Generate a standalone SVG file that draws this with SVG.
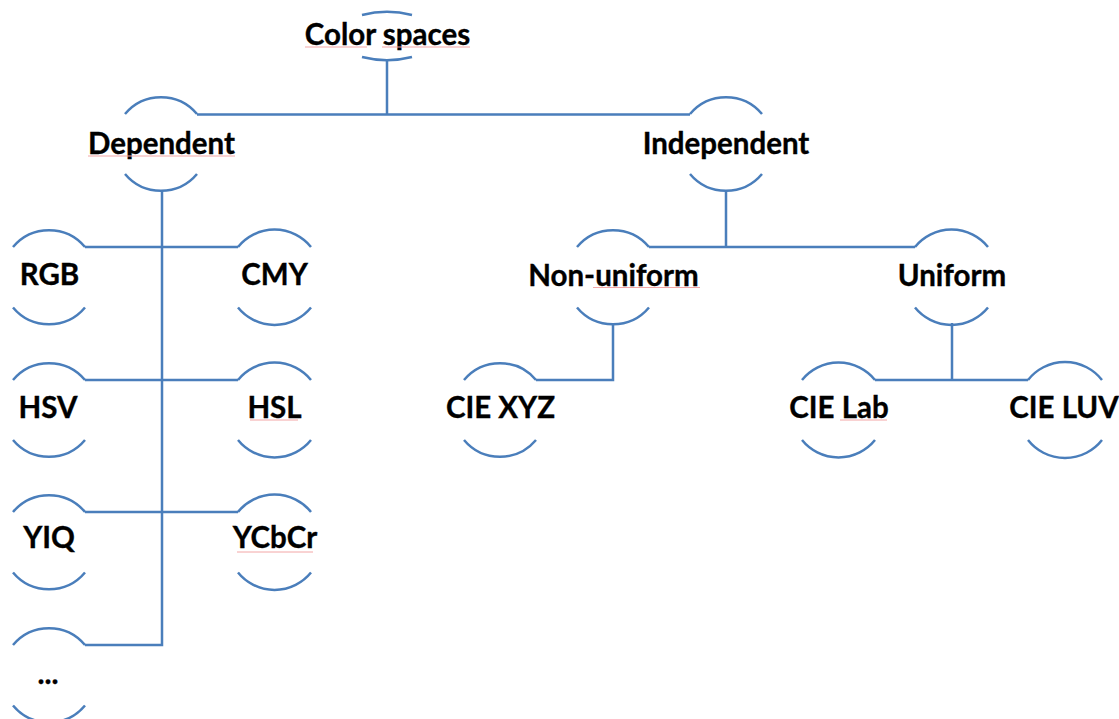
<svg xmlns="http://www.w3.org/2000/svg" width="1119" height="719" viewBox="0 0 1119 719">
<style>
.arc{fill:none;stroke:#4A7EBB;stroke-width:2.5}
.con{fill:none;stroke:#4A7EBB;stroke-width:2.5}
.t{font-family:Lato,"Liberation Sans",sans-serif;font-weight:bold;font-size:29.5px;fill:#000;stroke:#000;stroke-width:0.35;text-anchor:middle}
.sp{fill:none;stroke:#f3a6a6;stroke-width:1}
</style>
<rect width="1119" height="719" fill="#fff"/>
<g id="connectors">
<path class="con" d="M387,60 V114.5 M197,114.5 H690"/>
<path class="con" d="M162,191 V645 H85 M85,247 H238 M85,380 H238 M85,512 H238"/>
<path class="con" d="M726,191 V247 M649,247 H915"/>
<path class="con" d="M613,323 V380 H536"/>
<path class="con" d="M952,323 V380 M875,380 H1028"/>
</g>
<g id="n-colorspaces">
<path class="arc" d="M362,15 A52 24 0 0 1 412,15 M362,57 A52 24 0 0 0 412,57"/>
<text class="t" x="387.5" y="45">Color spaces</text>
<path class="sp" d="M305,47 H367 M382,47 H470"/>
</g>
<g id="n-dependent">
<path class="arc" d="M125,114 A47 47 0 0 1 197,114 M125,174 A47 47 0 0 0 197,174"/>
<text class="t" x="161.5" y="154">Dependent</text>
<path class="sp" d="M88,156 H235"/>
</g>
<g id="n-independent">
<path class="arc" d="M690,114 A47 47 0 0 1 762,114 M690,174 A47 47 0 0 0 762,174"/>
<text class="t" x="726" y="154">Independent</text>
</g>
<g id="n-nonuniform">
<path class="arc" d="M577,247 A47 47 0 0 1 649,247 M577,307.5 A47 47 0 0 0 649,307.5"/>
<text class="t" x="613.5" y="286">Non-uniform</text>
<path class="sp" d="M593,287.5 H700"/>
</g>
<g id="n-uniform">
<path class="arc" d="M915,247 A47 47 0 0 1 988,247 M915,307.5 A47 47 0 0 0 988,307.5"/>
<text class="t" x="952" y="286">Uniform</text>
</g>
<g id="n-rgb">
<path class="arc" d="M13,247 A47 47 0 0 1 85,247 M13,307.5 A47 47 0 0 0 85,307.5"/>
<text class="t" x="49.5" y="285">RGB</text>
</g>
<g id="n-cmy">
<path class="arc" d="M238,247 A47 47 0 0 1 311,247 M238,307.5 A47 47 0 0 0 311,307.5"/>
<text class="t" x="274.5" y="285">CMY</text>
</g>
<g id="n-hsv">
<path class="arc" d="M13,380 A47 47 0 0 1 85,380 M13,440 A47 47 0 0 0 85,440"/>
<text class="t" x="48" y="418">HSV</text>
</g>
<g id="n-hsl">
<path class="arc" d="M238,380 A47 47 0 0 1 311,380 M238,440 A47 47 0 0 0 311,440"/>
<text class="t" x="274.5" y="418">HSL</text>
<path class="sp" d="M250,420 H298"/>
</g>
<g id="n-yiq">
<path class="arc" d="M13,512 A47 47 0 0 1 85,512 M13,572.5 A47 47 0 0 0 85,572.5"/>
<text class="t" x="49" y="548">YIQ</text>
</g>
<g id="n-ycbcr">
<path class="arc" d="M238,512 A47 47 0 0 1 311,512 M238,572.5 A47 47 0 0 0 311,572.5"/>
<text class="t" x="275" y="548">YCbCr</text>
<path class="sp" d="M237,552 H313"/>
</g>
<g id="n-more">
<path class="arc" d="M13,645 A47 47 0 0 1 85,645 M13,705.5 A47 47 0 0 0 85,705.5"/>
<text class="t" x="48" y="684">...</text>
</g>
<g id="n-ciexyz">
<path class="arc" d="M464,380 A47 47 0 0 1 536,380 M464,440 A47 47 0 0 0 536,440"/>
<text class="t" x="500.5" y="418">CIE XYZ</text>
</g>
<g id="n-cielab">
<path class="arc" d="M802,380 A47 47 0 0 1 875,380 M802,440 A47 47 0 0 0 875,440"/>
<text class="t" x="839" y="418">CIE Lab</text>
<path class="sp" d="M840,420 H887"/>
</g>
<g id="n-cieluv">
<path class="arc" d="M1028,380 A47 47 0 0 1 1102,380 M1028,440 A47 47 0 0 0 1102,440"/>
<text class="t" x="1064" y="418">CIE LUV</text>
</g>
</svg>
